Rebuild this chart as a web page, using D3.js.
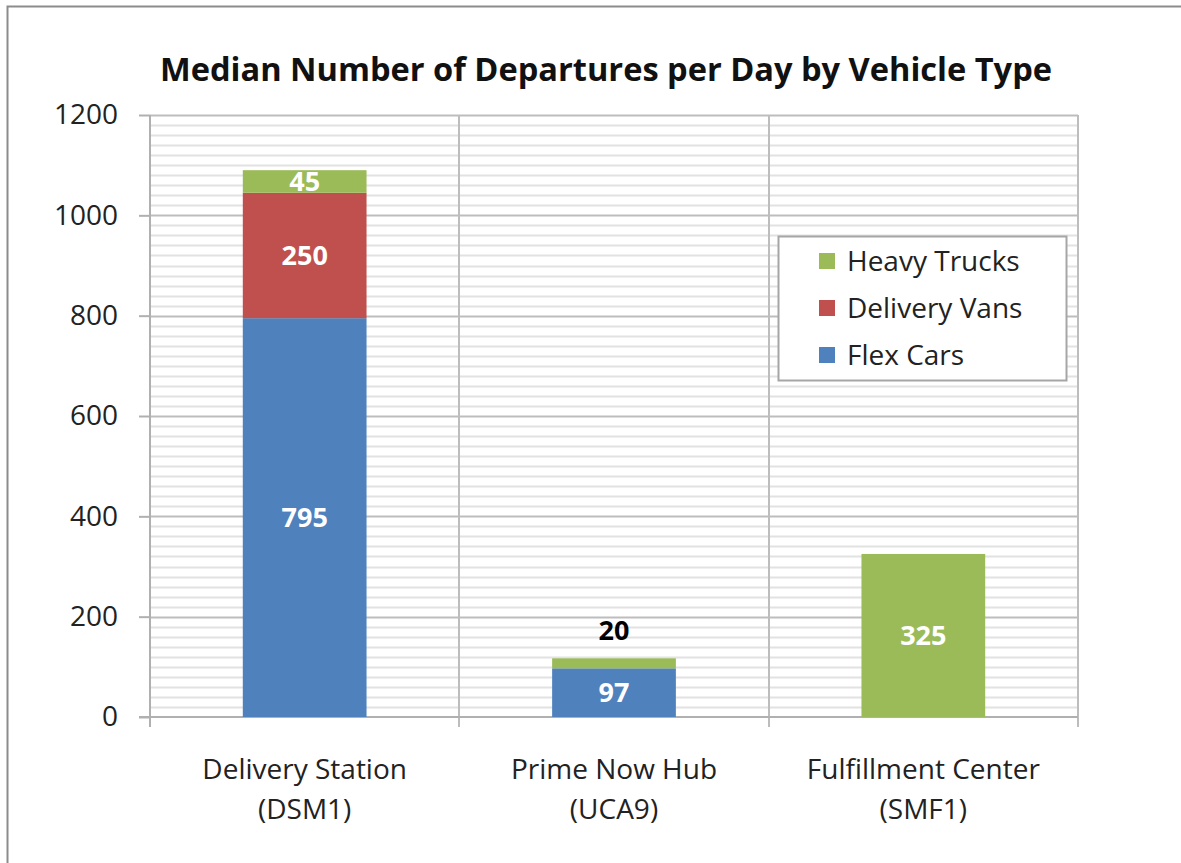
<!DOCTYPE html>
<html>
<head>
<meta charset="utf-8">
<script src="https://cdn.jsdelivr.net/npm/d3@7"></script>
<style>
  body { margin: 0; background: #fff; }
  text { font-family: "Open Sans", "Noto Sans", sans-serif; }
</style>
</head>
<body>
<div id="chart"></div>
<script>
// chart values
const categories = ['Delivery Station|(DSM1)', 'Prime Now Hub|(UCA9)', 'Fulfillment Center|(SMF1)'];
const seriesNames = ['Flex Cars', 'Delivery Vans', 'Heavy Trucks'];
const flexCars = [795, 97, 0];
const deliveryVans = [250, 0, 0];
const heavyTrucks = [45, 20, 325];
const yTicks = [0, 200, 400, 600, 800, 1000, 1200];
const titleText = 'Median Number of Departures per Day by Vehicle Type';

const colors = {
  'Flex Cars': '#4f81bd',
  'Delivery Vans': '#c0504d',
  'Heavy Trucks': '#9bbb59'
};

const width = 1181, height = 863;
const margin = { top: 115, right: 103, bottom: 146, left: 150 };

const svg = d3.select('#chart').append('svg')
  .attr('width', width)
  .attr('height', height);

// outer frame (only top and left edges show in the original)
svg.append('path')
  .attr('d', 'M7.5,' + height + 'V6.5H' + width)
  .attr('fill', 'none')
  .attr('stroke', '#8c8c8c')
  .attr('stroke-width', 2);

// table for d3.stack
const table = categories.map((c, i) => ({
  cat: c,
  'Flex Cars': flexCars[i],
  'Delivery Vans': deliveryVans[i],
  'Heavy Trucks': heavyTrucks[i]
}));
const stacked = d3.stack().keys(seriesNames)(table);

const x = d3.scaleBand()
  .domain(categories)
  .range([margin.left, width - margin.right])
  .paddingInner(0)
  .paddingOuter(0);

const y = d3.scaleLinear()
  .domain([0, 1200])
  .range([height - margin.bottom, margin.top]);

const g = svg.append('g');

// minor gridlines every 20
g.append('g')
  .selectAll('line')
  .data(d3.range(20, 1200, 20).filter(v => v % 200 !== 0))
  .join('line')
  .attr('x1', margin.left)
  .attr('x2', width - margin.right)
  .attr('y1', d => Math.round(y(d)) + 0.5)
  .attr('y2', d => Math.round(y(d)) + 0.5)
  .attr('stroke', '#e2e2e2')
  .attr('stroke-width', 2);

// major gridlines
g.append('g')
  .selectAll('line')
  .data(yTicks.filter(v => v > 0))
  .join('line')
  .attr('x1', margin.left)
  .attr('x2', width - margin.right)
  .attr('y1', d => Math.round(y(d)) + 0.5)
  .attr('y2', d => Math.round(y(d)) + 0.5)
  .attr('stroke', '#bdbdbd')
  .attr('stroke-width', 2);

// vertical category separators
const seps = categories.map(c => x(c) + x.bandwidth());
g.append('g')
  .selectAll('line')
  .data(seps)
  .join('line')
  .attr('x1', d => Math.round(d))
  .attr('x2', d => Math.round(d))
  .attr('y1', y(1200))
  .attr('y2', y(0) + 10)
  .attr('stroke', '#bdbdbd')
  .attr('stroke-width', 2);

// y axis
const yAxis = g.append('g')
  .attr('transform', 'translate(' + margin.left + ',0)')
  .call(d3.axisLeft(y).tickValues(yTicks).tickSize(11).tickPadding(21).tickFormat(d3.format('d')));
yAxis.select('.domain')
  .attr('d', 'M0,' + y(1200) + 'V' + (y(0) + 10))
  .attr('stroke', '#b0b0b0')
  .attr('stroke-width', 2);
yAxis.selectAll('.tick line').attr('stroke', '#b0b0b0').attr('stroke-width', 2);
yAxis.selectAll('.tick text')
  .attr('fill', '#222')
  .style('font-size', '28px')
  .style('font-family', '"Open Sans", sans-serif');

// x axis baseline
g.append('line')
  .attr('x1', margin.left - 11)
  .attr('x2', width - margin.right)
  .attr('y1', y(0))
  .attr('y2', y(0))
  .attr('stroke', '#b0b0b0')
  .attr('stroke-width', 2);

// bars
const barFrac = 0.4;
const layers = g.append('g')
  .selectAll('g')
  .data(stacked)
  .join('g')
  .attr('fill', d => colors[d.key]);

layers.selectAll('rect')
  .data(d => d)
  .join('rect')
  .attr('x', d => x(d.data.cat) + x.bandwidth() * (1 - barFrac) / 2)
  .attr('width', x.bandwidth() * barFrac)
  .attr('y', d => y(d[1]))
  .attr('height', d => y(d[0]) - y(d[1]));

// data labels
const labels = [];
stacked.forEach(s => {
  s.forEach(d => {
    const v = d[1] - d[0];
    if (v > 0) labels.push({ cat: d.data.cat, v: v, lo: d[0], hi: d[1] });
  });
});

g.append('g')
  .selectAll('text')
  .data(labels)
  .join('text')
  .attr('x', d => x(d.cat) + x.bandwidth() / 2)
  .attr('y', d => d.v < 30 ? y(d.hi) - 28 : (y(d.lo) + y(d.hi)) / 2)
  .attr('dy', '0.36em')
  .attr('text-anchor', 'middle')
  .attr('fill', d => d.v < 30 ? '#000' : '#fff')
  .style('font-size', '27px')
  .style('font-weight', 'bold')
  .text(d => d.v);

// category labels
const catLabels = g.append('g')
  .selectAll('text')
  .data(categories)
  .join('text')
  .attr('x', d => x(d) + x.bandwidth() / 2)
  .attr('y', y(0) + 62)
  .attr('text-anchor', 'middle')
  .attr('fill', '#222')
  .style('font-size', '28px');
catLabels.selectAll('tspan')
  .data(d => d.split('|'))
  .join('tspan')
  .attr('x', function () { return d3.select(this.parentNode).attr('x'); })
  .attr('dy', (d, i) => i === 0 ? 0 : 40)
  .text(d => d);

// title
svg.append('text')
  .attr('x', 606)
  .attr('y', 81)
  .attr('text-anchor', 'middle')
  .attr('fill', '#111')
  .attr('textLength', 892)
  .attr('lengthAdjust', 'spacingAndGlyphs')
  .style('font-size', '32px')
  .style('font-weight', 'bold')
  .text(titleText);

// legend
const legend = svg.append('g').attr('transform', 'translate(778,236)');
legend.append('rect')
  .attr('x', 0.5)
  .attr('y', 0.5)
  .attr('width', 288)
  .attr('height', 144)
  .attr('fill', '#fff')
  .attr('stroke', '#a6a6a6')
  .attr('stroke-width', 2);

const legendOrder = seriesNames.slice().reverse();
const items = legend.selectAll('g.item')
  .data(legendOrder)
  .join('g')
  .attr('class', 'item')
  .attr('transform', (d, i) => 'translate(41,' + (25 + i * 47) + ')');
items.append('rect')
  .attr('x', 0)
  .attr('y', -8)
  .attr('width', 16)
  .attr('height', 16)
  .attr('fill', d => colors[d]);
items.append('text')
  .attr('x', 28)
  .attr('y', 0)
  .attr('dy', '0.36em')
  .attr('fill', '#222')
  .style('font-size', '28px')
  .text(d => d);
</script>
</body>
</html>
